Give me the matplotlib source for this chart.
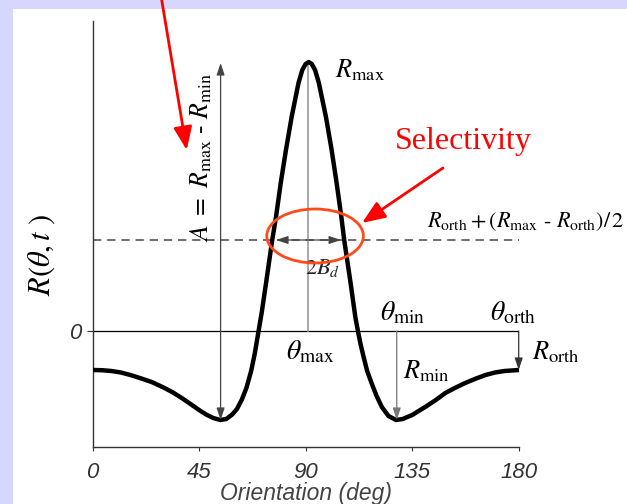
import matplotlib
matplotlib.use('Agg')
import matplotlib.pyplot as plt
from matplotlib.patches import Ellipse, Rectangle, FancyArrowPatch

plt.rcParams['mathtext.fontset'] = 'stix'

# tuning curve (orientation in deg, response in arbitrary units)
orientation = [0, 4, 8, 12, 16, 20, 25, 30, 34, 38, 42, 45, 48, 51, 54, 56.5, 59, 61, 63, 65,
               67, 68.5, 70, 71.5, 73.3, 75.9, 77.5, 79.5, 81.7, 84.1, 87.0, 88.6, 90, 91.3,
               92.6, 94.0, 95.6, 98.6, 101.0, 103.1, 105.1, 106.3, 109.0, 111.0, 112.1, 113.2,
               114.5, 116, 118, 120, 122.2, 125, 128.2, 131, 135, 140.5, 145, 149, 153, 157.4,
               162, 166, 170, 174, 180]
response = [-3.9, -3.92, -4.0, -4.15, -4.4, -4.7, -5.1, -5.65, -6.15, -6.75, -7.4, -7.9, -8.35,
            -8.7, -8.9, -8.8, -8.35, -7.8, -6.9, -5.7, -4.0, -2.3, -0.2, 1.9, 4.8, 9.1, 11.4,
            14.8, 18.1, 21.4, 24.8, 26.1, 26.7, 26.9, 26.7, 26.1, 24.8, 21.4, 18.1, 14.8, 11.4,
            9.1, 4.8, 1.4, 0.0, -1.3, -2.6, -4.0, -5.3, -6.5, -7.6, -8.5, -8.9, -8.8, -8.4,
            -7.6, -6.9, -6.2, -5.7, -5.2, -4.75, -4.4, -4.15, -4.0, -3.9]

r_max = 26.8
r_min = -8.9
r_orth = -3.9
half_level = 9.1
theta_max = 91.2
theta_min_left = 54.1
theta_min_right = 128.5
theta_orth = 180
x_ticks = [0, 45, 90, 135, 180]

fig = plt.figure(figsize=(6.27, 5.04), dpi=100)
fig.patch.set_facecolor('#D6D6FE')
fig.add_artist(Rectangle((12.5 / 627, 0), 1, 1 - 9 / 504, transform=fig.transFigure,
                         facecolor='white', edgecolor='none', zorder=-5))

ax = fig.add_axes([92.5 / 627, 57.3 / 504, 426.2 / 627, 425.7 / 504])
ax.set_facecolor('none')
ax.set_xlim(0, 180)
ax.set_ylim(-11.57, 31.0)
for s in ['top', 'right']:
    ax.spines[s].set_visible(False)
for s in ['left', 'bottom']:
    ax.spines[s].set_color('#333333')
    ax.spines[s].set_linewidth(1.0)

ax.set_xticks(x_ticks)
ax.set_xticklabels([str(t) for t in x_ticks], fontstyle='italic', family='Liberation Sans',
                   fontsize=16, color='#333333')
ax.set_yticks([0])
ax.set_yticklabels(['0'], fontstyle='italic', family='Liberation Sans', fontsize=16, color='#333333')
ax.tick_params(axis='x', length=3, pad=8, color='#333333')
ax.tick_params(axis='y', length=4, pad=4, color='#333333')

ax.set_xlabel('Orientation (deg)', fontstyle='italic', family='Liberation Sans', fontsize=16.5,
              color='#444444')
ax.xaxis.set_label_coords(0.5, -0.109)
ax.xaxis.label.set_va('center')

# curve and reference lines
ax.plot(orientation, response, color='black', lw=3.2, solid_joinstyle='round', zorder=3)
ax.plot([0, 180], [0, 0], color='black', lw=0.9)
ax.plot([0, 180], [half_level, half_level], color='#555555', lw=1.2, dashes=(5, 3.5))
ax.plot([theta_max, theta_max], [0, r_max], color='#999999', lw=1.2, zorder=2)

arrow_gray = dict(arrowstyle='-|>,head_length=0.6,head_width=0.2', color='#444444', lw=0.9,
                  shrinkA=0, shrinkB=0, mutation_scale=12)
ax.annotate('', xy=(theta_min_left, r_max), xytext=(theta_min_left, r_min),
            arrowprops=dict(arrow_gray, arrowstyle='<|-|>,head_length=0.6,head_width=0.2'))
ax.annotate('', xy=(77.5, half_level), xytext=(105, half_level),
            arrowprops=dict(arrow_gray, arrowstyle='<|-|>,head_length=0.6,head_width=0.2'))
ax.annotate('', xy=(theta_min_right, r_min), xytext=(theta_min_right, 0),
            arrowprops=dict(arrow_gray, color='#777777'))
ax.annotate('', xy=(theta_orth, r_orth), xytext=(theta_orth, 0),
            arrowprops=dict(arrow_gray, color='#333333'), annotation_clip=False)

# labels
ax.text(102.4, 26.1, r'$R_{\mathrm{max}}$', fontsize=19, ha='left', va='center')
ax.text(46.0, 17.4, r'$A\ =\ R_{\mathrm{max}}$ - $R_{\mathrm{min}}$', family='STIXGeneral',
        fontsize=18.5, rotation=90, ha='center', va='center')
ax.text(92.0, -2.0, r'$\theta_{\mathrm{max}}$', fontsize=20, ha='center', va='center')
ax.text(131, 1.9, r'$\theta_{\mathrm{min}}$', fontsize=20, ha='center', va='center')
ax.text(131.0, -4.0, r'$R_{\mathrm{min}}$', fontsize=19, ha='left', va='center')
ax.text(177.5, 1.9, r'$\theta_{\mathrm{orth}}$', fontsize=20, ha='center', va='center')
ax.text(185.5, -2.1, r'$R_{\mathrm{orth}}$', fontsize=19, ha='left', va='center')
ax.text(97, 6.3, r'$2B_d$', fontsize=16, ha='center', va='center', color='#222222')
ax.text(224.8, 10.9, r'$R_{\mathrm{orth}}+(R_{\mathrm{max}}$ - $R_{\mathrm{orth}})/\,2$',
        family='STIXGeneral', fontsize=16, ha='right', va='center')

# selectivity highlight
ax.add_patch(Ellipse((94, 9.5), width=40.8, height=5.4, fill=False, edgecolor='#FF4A1A', lw=2,
                     zorder=4))
ax.annotate('', xy=(113.8, 10.8), xytext=(148, 16.3),
            arrowprops=dict(arrowstyle='-|>,head_length=1.0,head_width=0.4', color='red', lw=2,
                            shrinkA=0, shrinkB=0, mutation_scale=14))
ax.text(156.5, 19.0, 'Selectivity', color='red', fontsize=23, family='Liberation Serif',
        ha='center', va='center')

fig.text(41.5 / 627, 1 - 255 / 504, r'$R(\theta,t\ )$', rotation=90, fontsize=22,
         ha='center', va='center')

# red arrow coming from above the frame
fig.add_artist(FancyArrowPatch((161.7 / 627, 1.0), (186.7 / 627, 1 - 150 / 504),
                               transform=fig.transFigure,
                               arrowstyle='-|>,head_length=1.0,head_width=0.4', color='red',
                               lw=2, mutation_scale=14, shrinkA=0, shrinkB=0, zorder=10))

fig.savefig('out.png', dpi=100)
